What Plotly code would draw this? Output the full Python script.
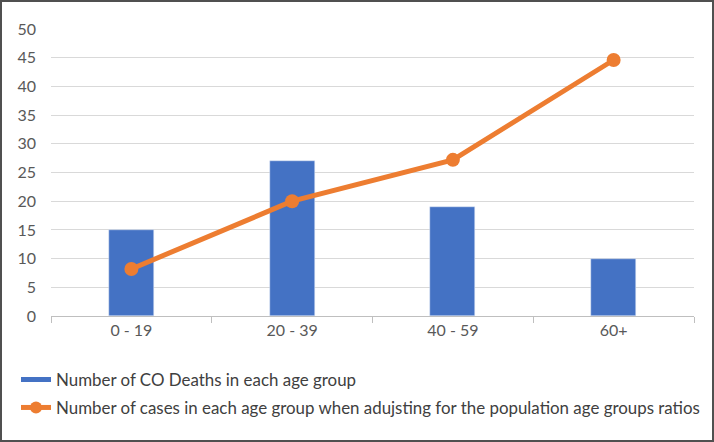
import plotly.graph_objects as go

categories = ["0 - 19", "20 - 39", "40 - 59", "60+"]
deaths = [15, 27, 19, 10]
adjusted = [8.2, 20.0, 27.2, 44.6]
bar_name = "Number of CO Deaths in each age group"
line_name = "Number of cases in each age group when adujsting for the population age groups ratios"

BLUE = "#4472C4"
ORANGE = "#ED7D31"
TXT = "#595959"

fig = go.Figure()
fig.add_trace(go.Bar(x=categories, y=deaths, name=bar_name, marker_color=BLUE,
                     width=0.28, showlegend=False))
# legend swatch for the bar series (Excel-style wide rectangle)
fig.add_trace(go.Scatter(x=[categories[0]], y=[None], mode="lines", name=bar_name,
                         legendgroup="a", line=dict(color=BLUE, width=8), hoverinfo="skip"))
fig.add_trace(go.Scatter(x=categories, y=adjusted, name=line_name, mode="lines+markers",
                         legendgroup="b", line=dict(color=ORANGE, width=5),
                         marker=dict(color=ORANGE, size=14)))

W, H = 714, 442
ml, mr, mt, mb = 51, 20, 29, 126
pw, ph = W - ml - mr, H - mt - mb

fig.update_layout(
    width=W, height=H,
    margin=dict(l=ml, r=mr, t=mt, b=mb, autoexpand=False),
    paper_bgcolor="white", plot_bgcolor="white",
    font=dict(family="Lato, Open Sans, sans-serif", size=15, color=TXT),
    bargap=0,
    legend=dict(orientation="v", xref="container", yref="container",
                x=16 / W, y=1 - 362 / H, xanchor="left", yanchor="top",
                itemwidth=30, traceorder="grouped", tracegroupgap=3,
                font=dict(size=16.9, color="#404040"), itemsizing="constant"),
    shapes=[dict(type="rect", xref="paper", yref="paper",
                 x0=-(ml - 1) / pw, x1=1 + (mr - 1) / pw,
                 y0=-(mb - 1) / ph, y1=1 + (mt - 1) / ph,
                 line=dict(color="#505050", width=2))],
)
fig.update_xaxes(type="category", categoryorder="array", categoryarray=categories,
                 showgrid=False, showline=True, linecolor="#BFBFBF", linewidth=1,
                 ticks="outside", tickson="boundaries", ticklen=6, tickcolor="#BFBFBF",
                 tickfont=dict(size=16, color=TXT))
fig.update_yaxes(range=[0, 50], dtick=5, showgrid=True, gridcolor="#D9D9D9", gridwidth=1,
                 zeroline=False, showline=False, ticks="", ticklabelstandoff=14,
                 tickfont=dict(size=16, color=TXT))

fig.write_html("out.html", config={"displayModeBar": False},
               post_script="document.body.style.margin='0';")
